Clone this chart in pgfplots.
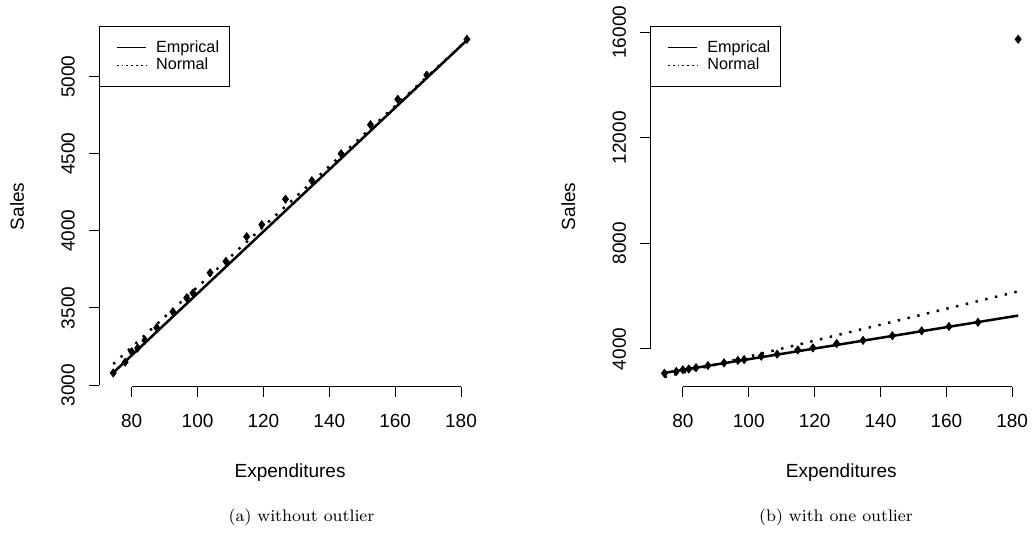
\documentclass[border=0pt]{standalone}
\usepackage{pgfplots}
\pgfplotsset{compat=1.18}
\usepackage{fontspec}
\newfontfamily\rfont{Liberation Sans}

% sorted expenditures and sales
\pgfplotstableread{
x     y
74.4  3078
78.0  3148
80.0  3216
81.8  3240
84.0  3290
87.6  3372
92.5  3475
96.7  3565
98.6  3596
103.8 3728
108.6 3802
114.9 3962
119.5 4040
126.7 4205
134.7 4325
143.6 4500
152.5 4688
160.8 4853
169.6 5010
181.8 5242
}\nooutlier
\pgfplotstableread{
x     y
74.4  3078
78.0  3148
80.0  3216
81.8  3240
84.0  3290
87.6  3372
92.5  3475
96.7  3565
98.6  3596
103.8 3728
108.6 3802
114.9 3962
119.5 4040
126.7 4205
134.7 4325
143.6 4500
152.5 4688
160.8 4853
169.6 5010
181.8 15735
}\withoutlier

\pgfplotsset{
  rplot/.style={
    scale only axis, width=191pt, height=180.4pt,
    xmin=70.1, xmax=186.1,
    axis x line*=bottom, axis y line*=left,
    axis line style={-, line width=0.5pt},
    tick align=outside, major tick length=5pt,
    every tick/.style={black, line width=0.5pt},
    scaled y ticks=false, scaled x ticks=false,
    xtick={80,100,120,140,160,180},
    xticklabels={80,100,120,140,160,180},
    x axis line style={shorten <=16.3pt, shorten >=10.04pt},
    tick label style={font=\rfont\fontsize{9.5}{11}\selectfont},
    xticklabel style={anchor=center, yshift=-12pt},
    yticklabel style={xshift=-10.5pt, rotate=90, anchor=center},
    label style={font=\rfont\fontsize{9.5}{11}\selectfont},
    xlabel={Expenditures}, ylabel={Sales},
    xlabel style={at={(axis description cs:0.5,-0.2392)}, anchor=center},
    ylabel style={at={(axis description cs:-0.2147,0.5)}, anchor=center},
    legend style={at={(0,1)}, anchor=north west, draw=black, line width=0.5pt,
      font=\rfont\fontsize{8.1}{9.3}\selectfont, cells={anchor=west},
      inner xsep=3pt, inner ysep=5pt, row sep=-2.5pt},
    clip=false,
  },
  emp/.style={black, line width=1.25pt, mark=none,
    legend image code/.code={\path (0pt,0pt) (22pt,0pt);
      \draw[line width=0.6pt] (5pt,0pt) -- (19.5pt,0pt);}},
  nrm/.style={black, line width=1.25pt, mark=none, dash pattern=on 1.2pt off 3.8pt,
    legend image code/.code={\path (0pt,0pt) (22pt,0pt);
      \draw[line width=0.6pt, dash pattern=on 0.9pt off 1.5pt] (5pt,0pt) -- (19.5pt,0pt);}},
  pts/.style={only marks, mark=diamond*, mark size=2pt, black, forget plot},
}

\begin{document}
\begin{tikzpicture}
\path[use as bounding box] (0pt,0pt) rectangle (516.5pt,-274.5pt);

\begin{axis}[rplot, at={(49.55pt,-193.35pt)}, anchor=south west,
  ymin=2989, ymax=5329,
  ytick={3000,3500,4000,4500,5000},
  yticklabels={3000,3500,4000,4500,5000},
  y axis line style={shorten <=0.85pt, shorten >=25.36pt}]
  \addplot[emp] coordinates {(74.4,3080) (181.8,5236)};
  \addlegendentry{Emprical}
  \addplot[nrm] coordinates {(74.4,3136) (181.8,5236)};
  \addlegendentry{Normal}
  \addplot[pts] table[x=x, y=y] {\nooutlier};
\end{axis}

\begin{axis}[rplot, at={(325.15pt,-193.35pt)}, anchor=south west,
  ymin=2570, ymax=16241,
  ytick={4000,8000,12000,16000},
  yticklabels={4000,8000,12000,16000},
  y axis line style={shorten <=18.87pt, shorten >=3.18pt}]
  \addplot[emp] coordinates {(74.4,3095) (181.8,5265)};
  \addlegendentry{Emprical}
  \addplot[nrm] coordinates {(74.4,2940) (181.8,6180)};
  \addlegendentry{Normal}
  \addplot[pts] table[x=x, y=y] {\withoutlier};
\end{axis}

\node[font=\fontsize{8.4}{10}\selectfont] at (150.75pt,-258.5pt) {(a) without outlier};
\node[font=\fontsize{8.4}{10}\selectfont] at (418pt,-258.5pt) {(b) with one outlier};
\end{tikzpicture}
\end{document}
